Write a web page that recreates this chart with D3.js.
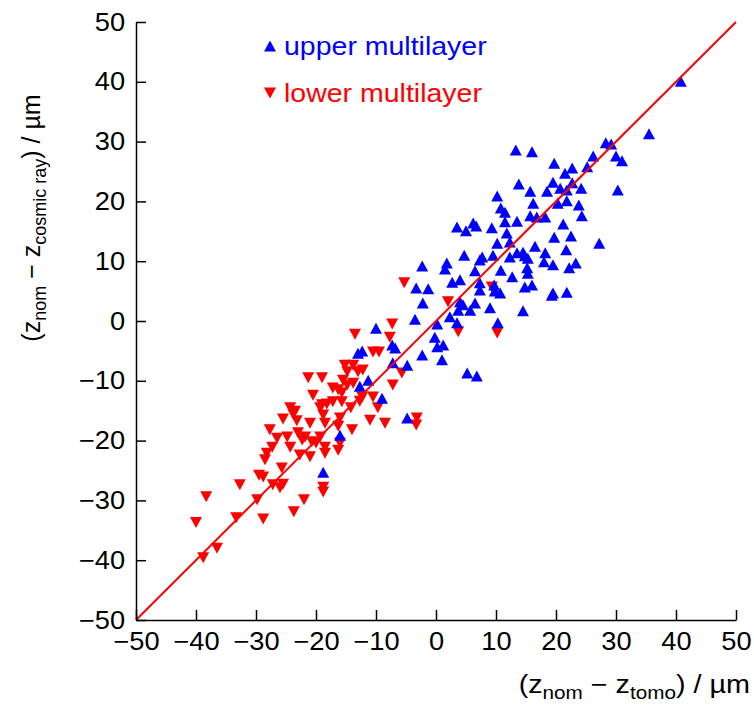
<!DOCTYPE html>
<html>
<head>
<meta charset="utf-8">
<script src="https://cdn.jsdelivr.net/npm/d3@7"></script>
<style>
  body { margin: 0; background: #fff; }
  svg text { font-family: "Liberation Sans", Arial, sans-serif; }
</style>
</head>
<body>
<script>
'use strict';

// upper multilayer points [x, y] in um
var upperX = [40.8, 35.5, 28.3, 29.2, 30.0, 31.0, 26.2, 25.2, 19.7, 22.7, 21.5, 19.5, 22.7, 20.7, 21.8, 24.2, 30.3, 18.5,
	21.8, 20.3, 23.8, 24.3, 21.2, 19.7, 22.5, 27.2, 21.7, 19.5, 22.2, 23.3, 19.5, 21.8, 13.3, 16.0, 13.8, 15.7, 10.2, 16.2,
	10.8, 11.5, 15.7, 18.2, 16.8, 13.5, 11.5, 3.5, 6.2, 6.7, 5.0, 9.3, 11.8, 10.2, 12.3, 16.5, 18.2, 18.0, 4.7, 7.7, 9.5,
	14.5, 13.5, 12.3, 14.8, 15.3, 1.8, 1.5, -2.3, 7.3, 6.5, 10.8, 15.2, 15.3, 2.7, 4.0, -3.3, -1.3, 7.3, 9.7, 7.3, 9.8,
	12.7, 14.8, 16.0, 10.7, 19.3, -2.2, 4.0, 4.5, 3.7, 6.5, 5.7, 9.0, 14.5, 2.3, -3.5, 0.2, 3.5, 10.3, -0.2, 0.2, 1.2,
	-7.3, -6.8, -2.3, 1.0, -7.2, -4.8, 5.2, 6.8, -10.0, -13.0, -12.3, -11.3, -12.7, -9.0, -4.8, -16.0, -18.8];
var upperY = [40.1, 31.3, 29.8, 29.6, 27.6, 26.8, 27.6, 25.8, 26.4, 25.6, 24.7, 23.2, 23.1, 22.2, 21.9, 22.2, 21.9, 21.7,
	20.1, 19.7, 19.4, 17.6, 16.2, 14.0, 14.2, 13.0, 11.9, 9.4, 8.9, 9.7, 4.7, 4.8, 28.6, 28.3, 22.9, 21.7, 20.9, 19.7,
	18.9, 18.2, 17.6, 17.4, 17.4, 16.7, 16.6, 15.7, 16.4, 15.9, 15.1, 15.6, 14.7, 13.0, 13.2, 12.5, 11.4, 9.9, 11.0, 10.7, 11.0,
	11.5, 11.4, 10.7, 10.9, 10.5, 9.7, 8.7, 9.2, 10.2, 8.4, 8.5, 8.9, 8.0, 6.5, 6.9, 5.5, 5.4, 6.4, 6.0, 5.2, 5.0,
	7.4, 5.7, 6.0, 4.7, 4.3, 3.0, 3.2, 2.7, 1.8, 3.0, 1.8, 2.2, 1.7, 0.7, 0.3, -0.5, -0.3, -0.3, -2.7, -4.3, -4.0,
	-4.0, -4.5, -5.7, -6.5, -7.0, -7.4, -8.7, -9.2, -1.2, -5.4, -5.0, -9.9, -10.9, -12.9, -16.2, -19.1, -25.3];

// lower multilayer points
var lowerX = [-7.3, -13.5, -7.7, -10.5, -9.5, 2.0, 3.7, 10.2, 9.3, -5.3, -15.2, -13.8, -14.8, -13.0, -12.2, -21.3, -19.0,
	-15.5, -14.8, -13.8, -17.2, -16.3, -15.7, -20.5, -7.2, -5.7, -10.5, -12.3, -12.7, -19.0, -18.2, -17.2, -15.7, -14.2,
	-9.7, -19.3, -24.3, -23.5, -23.8, -18.8, -25.5, -23.2, -21.0, -18.5, -16.0, -11.0, -8.5, -16.3, -14.0, -3.2, -3.3,
	-27.7, -26.5, -24.8, -23.0, -22.3, -20.7, -20.0, -18.5, -16.3, -16.0, -24.3, -27.3, -28.2, -28.5, -25.7, -22.7, -21.0,
	-29.5, -28.8, -18.8, -18.8, -32.7, -27.2, -26.0, -25.5, -29.8, -22.0, -23.7, -38.3, -40.0, -33.3, -28.8, -36.5, -38.8,
	-18.5, -19.3, -21.8];
var lowerY = [-0.5, -2.2, -2.7, -5.2, -5.2, 3.2, -1.8, -2.0, 5.7, 6.4, -7.4, -7.4, -8.5, -8.5, -8.2, -9.5, -9.5,
	-9.9, -10.7, -10.4, -11.2, -11.5, -12.0, -12.4, -10.7, -8.7, -12.7, -12.7, -13.4, -14.0, -13.9, -13.5, -13.5, -14.5,
	-14.5, -14.5, -14.5, -15.1, -15.6, -15.7, -16.4, -16.7, -17.1, -17.1, -16.2, -16.6, -17.1, -17.6, -18.2, -16.2, -17.4,
	-18.2, -19.6, -19.4, -18.7, -19.9, -20.2, -20.4, -21.1, -21.6, -20.4, -21.1, -21.1, -22.1, -23.2, -24.6, -22.4, -22.7,
	-25.8, -26.1, -27.8, -28.6, -27.4, -27.4, -27.9, -27.3, -29.9, -29.9, -31.9, -29.4, -33.7, -32.9, -33.1, -38.0, -39.6,
	-22.1, -19.4, -19.4];

var ticks = [-50, -40, -30, -20, -10, 0, 10, 20, 30, 40, 50];

var W = 754, H = 707;
var m = {left: 136, top: 22, right: 18, bottom: 87};
var iw = W - m.left - m.right, ih = H - m.top - m.bottom;

var x = d3.scaleLinear().domain([-50, 50]).range([0, iw]);
var y = d3.scaleLinear().domain([-50, 50]).range([ih, 0]);

var svg = d3.select('body').append('svg').attr('width', W).attr('height', H);
var g = svg.append('g').attr('transform', 'translate(' + m.left + ',' + m.top + ')');

var up = 'M0,-5.5L6,5.5L-6,5.5Z';
var down = 'M0,5.5L6,-5.5L-6,-5.5Z';

var lower = lowerX.map((d, i) => [d, lowerY[i]]);
var upper = upperX.map((d, i) => [d, upperY[i]]);

g.selectAll('path.lower')
	.data(lower)
	.enter()
	.append('path')
	.attr('class', 'lower')
	.attr('d', down)
	.attr('transform', d => 'translate(' + x(d[0]) + ',' + y(d[1]) + ')')
	.attr('fill', '#ff0000');

g.selectAll('path.upper')
	.data(upper)
	.enter()
	.append('path')
	.attr('class', 'upper')
	.attr('d', up)
	.attr('transform', d => 'translate(' + x(d[0]) + ',' + y(d[1]) + ')')
	.attr('fill', '#0000ff');

// y = x line
g.append('line')
	.attr('x1', x(-50)).attr('y1', y(-50))
	.attr('x2', x(50)).attr('y2', y(50))
	.attr('stroke', '#ff0000')
	.attr('stroke-width', 2);

var fmt = d3.format('d');

var xAxis = g.append('g')
	.attr('transform', 'translate(0,' + ih + ')')
	.call(d3.axisBottom(x).tickValues(ticks).tickFormat(fmt).tickSizeInner(-10).tickSizeOuter(0).tickPadding(12));
var yAxis = g.append('g')
	.call(d3.axisLeft(y).tickValues(ticks).tickFormat(fmt).tickSizeInner(-10).tickSizeOuter(0).tickPadding(10));

[xAxis, yAxis].forEach(a => {
	a.select('.domain').attr('stroke', '#000').attr('stroke-width', 1.5);
	a.selectAll('.tick line').attr('stroke', '#000').attr('stroke-width', 1.5);
	a.selectAll('.tick text').attr('fill', '#000').style('font-size', '25px')
		.style('font-family', '"Liberation Sans", Arial, sans-serif')
		.attr('transform', 'scale(1.09,1)');
});
xAxis.selectAll('.tick text').attr('dy', '0.71em');

// axis titles
var xt = svg.append('text')
	.attr('transform', 'translate(750,693) scale(1.15,1)')
	.attr('text-anchor', 'end')
	.style('font-size', '25px');
xt.append('tspan').text('(z');
xt.append('tspan').text('nom').attr('dy', 6).style('font-size', '18px');
xt.append('tspan').text(' \u2212 z').attr('dy', -6);
xt.append('tspan').text('tomo').attr('dy', 6).style('font-size', '18px');
xt.append('tspan').text(') / \u00b5m').attr('dy', -6);

var yt = svg.append('text')
	.attr('transform', 'translate(40,218) rotate(-90)')
	.attr('text-anchor', 'middle')
	.style('font-size', '25px');
yt.append('tspan').text('(z');
yt.append('tspan').text('nom').attr('dy', 6).style('font-size', '18px');
yt.append('tspan').text(' \u2212 z').attr('dy', -6);
yt.append('tspan').text('cosmic ray').attr('dy', 6).style('font-size', '18px');
yt.append('tspan').text(') / \u00b5m').attr('dy', -6);

// legend
var legend = [
	{name: 'upper multilayer', color: '#0000ff', shape: up, cy: 46},
	{name: 'lower multilayer', color: '#ff0000', shape: down, cy: 93}
];
var lg = svg.selectAll('g.leg')
	.data(legend)
	.enter()
	.append('g')
	.attr('class', 'leg')
	.attr('transform', d => 'translate(270,' + d.cy + ')');
lg.append('path').attr('d', d => d.shape).attr('fill', d => d.color);
lg.append('text')
	.attr('transform', 'translate(14,0) scale(1.14,1)')
	.attr('dy', '0.35em')
	.attr('fill', d => d.color)
	.style('font-size', '25px')
	.text(d => d.name);
</script>
</body>
</html>
